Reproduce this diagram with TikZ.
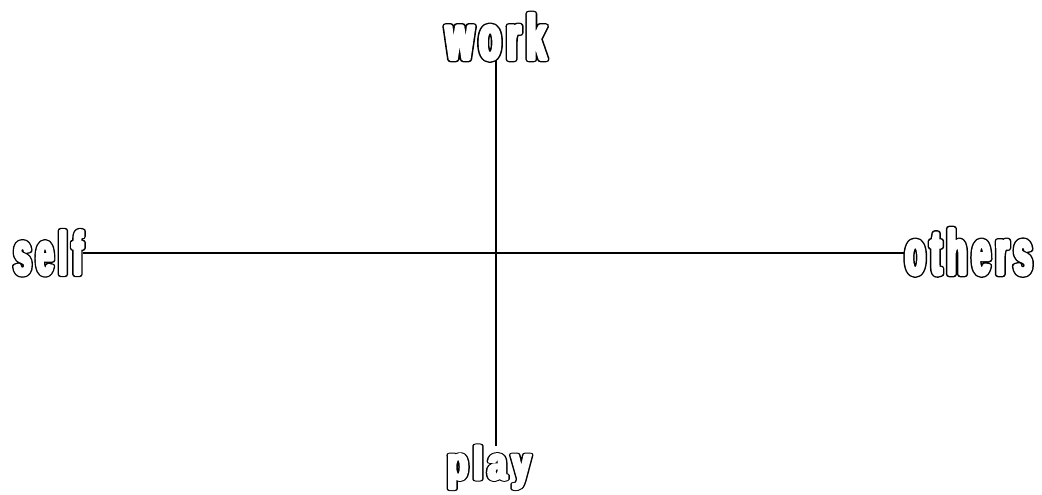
\documentclass[tikz,border=0pt]{standalone}
\usepackage{fontspec}
\usepackage{graphicx}
\newfontfamily\labfont[FakeStretch=0.47]{Liberation Sans}
\newcommand{\lsp}{\kern4.5pt}
\newcommand{\hollow}[1]{%
  \rlap{\special{pdf:literal direct 0 G 1 j 1 Tr 5.4 w}#1}%
  \special{pdf:literal direct 1 g 1 G 1 j 2 Tr 3.0 w}#1%
  \special{pdf:literal direct 0 g 0 G 0 j 0 Tr}}
\newcommand{\lab}[3]{\resizebox{#2}{#3}{\labfont\bfseries\fontsize{56}{60}\selectfont\hollow{#1}}}
\pgfdeclarelayer{bg}
\pgfsetlayers{bg,main}
\tikzset{
  lbl/.style={inner sep=0pt, outer sep=0pt},
  axisline/.style={line width=1.2pt, draw=black}
}
\begin{document}
\begin{tikzpicture}[x=0.75pt,y=-0.75pt]
\useasboundingbox (0,0) rectangle (1042,495);
\node[lbl, anchor=base] (work) at (496,59.3) {\lab{w\lsp o\lsp r\lsp k}{75pt}{34.2pt}};
\node[lbl, anchor=base] (play) at (489,479.3) {\lab{p\lsp l\lsp a\lsp y}{62pt}{25.2pt}};
\node[lbl, anchor=base west] (self) at (14,274.3) {\lab{s\lsp e\lsp l\lsp f}{51.5pt}{32.7pt}};
\node[lbl, anchor=base east] (others) at (1032,274.3) {\lab{o\lsp t\lsp h\lsp e\lsp r\lsp s}{95pt}{34.2pt}};
\begin{pgfonlayer}{bg}
\draw[axisline] (self.east) -- (self.east -| others.west);
\draw[axisline] (work.south) -- (work.south |- play.north);
\end{pgfonlayer}
\end{tikzpicture}
\end{document}
